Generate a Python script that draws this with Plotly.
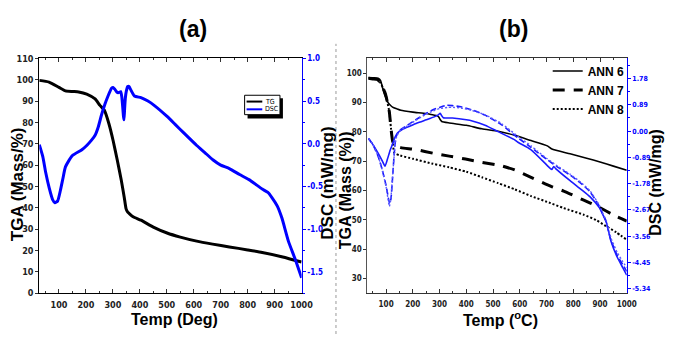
import plotly.graph_objects as go

# ---------------- Panel (a) data ----------------
a_tg_T = [27, 63, 100, 124, 150, 173, 203, 234, 252, 268, 285, 301, 316, 331, 342, 349, 355, 361, 375, 404, 450, 501, 550, 611, 670, 732, 800, 854, 930, 1000]
a_tg_v = [99.7, 98.9, 96.4, 94.8, 94.5, 94.3, 93.3, 91.0, 88.0, 85.8, 79.5, 71.4, 62.5, 53.0, 45.0, 39.5, 38.0, 37.3, 35.8, 34.2, 31.0, 28.2, 26.3, 24.4, 23.0, 21.7, 20.3, 19.1, 17.0, 14.6]

a_dsc_T = [27, 40, 51, 64, 76, 85, 95, 105, 115, 124, 149, 185, 203, 220, 234, 246, 258, 270, 282, 295, 301, 307, 316, 322, 329, 333, 337, 339, 341, 343, 346, 350, 355, 360, 365, 380, 404, 430, 453, 501, 530, 562, 611, 640, 672, 700, 732, 770, 805, 854, 875, 890, 910, 927, 951, 976, 1000]
a_dsc_v = [-0.01, -0.15, -0.34, -0.52, -0.65, -0.69, -0.67, -0.55, -0.40, -0.27, -0.14, -0.07, -0.02, 0.04, 0.10, 0.20, 0.34, 0.46, 0.56, 0.65, 0.66, 0.64, 0.60, 0.60, 0.61, 0.55, 0.41, 0.33, 0.28, 0.38, 0.53, 0.62, 0.67, 0.67, 0.64, 0.56, 0.54, 0.50, 0.45, 0.32, 0.23, 0.13, -0.02, -0.10, -0.19, -0.25, -0.29, -0.36, -0.42, -0.53, -0.57, -0.63, -0.73, -0.87, -1.14, -1.35, -1.57]

# ---------------- Panel (b) data ----------------
ann6_T = [34, 55, 70, 79, 88, 97, 106, 115, 124, 140, 155, 200, 250, 277, 290, 296, 302, 308, 336, 400, 458, 519, 581, 642, 703, 720, 788, 850, 900, 950, 1000]
ann6_v = [98.5, 98.4, 98.2, 97.5, 94.5, 92.0, 90.1, 89.1, 88.4, 87.8, 87.3, 86.7, 86.2, 85.7, 85.5, 85.1, 84.2, 83.5, 83.0, 82.2, 81.0, 80.2, 78.8, 77.0, 75.2, 74.1, 72.5, 71.0, 69.7, 68.3, 66.9]

ann7_T = [34, 50, 67, 80, 88, 95, 100, 106, 112, 118, 124, 130, 140, 155, 214, 275, 336, 397, 458, 531, 581, 642, 715, 764, 837, 886, 960, 1000]
ann7_v = [98.2, 98.0, 97.8, 96.5, 95.0, 93.5, 92.0, 89.5, 86.8, 81.3, 77.0, 75.5, 75.0, 74.6, 73.9, 72.7, 71.7, 70.7, 69.6, 68.4, 67.0, 64.5, 61.5, 59.8, 56.8, 54.8, 51.2, 49.6]

ann8_T = [34, 50, 67, 80, 88, 95, 100, 106, 112, 118, 124, 131, 153, 200, 275, 336, 400, 458, 519, 581, 642, 715, 764, 837, 886, 923, 960, 1000]
ann8_v = [98.2, 98.0, 97.8, 96.5, 95.0, 93.5, 92.0, 89.5, 86.8, 81.3, 76.9, 72.8, 71.9, 70.8, 69.1, 67.9, 66.4, 64.5, 62.5, 60.4, 58.1, 55.7, 54.0, 51.8, 49.9, 47.8, 45.8, 43.2]

dsc6_T = [34, 50, 70, 85, 96, 105, 115, 124, 134, 143, 160, 190, 216, 250, 280, 295, 302, 308, 314, 348, 400, 422, 470, 519, 581, 593, 640, 690, 712, 720, 727, 735, 788, 830, 862, 898, 910, 923, 941, 965, 985, 1000]
dsc6_v = [-0.25, -0.45, -0.75, -1.00, -1.19, -0.95, -0.65, -0.44, -0.20, -0.06, 0.05, 0.17, 0.27, 0.38, 0.48, 0.55, 0.60, 0.52, 0.45, 0.44, 0.38, 0.34, 0.20, -0.02, -0.30, -0.38, -0.62, -1.05, -1.25, -1.30, -1.20, -1.28, -1.68, -1.98, -2.22, -2.60, -2.82, -3.07, -3.73, -4.28, -4.62, -4.88]

dsc7_T = [34, 50, 70, 85, 100, 108, 113, 118, 124, 130, 137, 150, 180, 214, 250, 275, 300, 326, 348, 380, 420, 470, 532, 593, 642, 666, 700, 740, 788, 830, 862, 898, 910, 923, 941, 965, 985, 1000]
dsc7_v = [-0.25, -0.45, -0.85, -1.30, -1.85, -2.25, -2.45, -2.30, -1.60, -0.80, -0.20, 0.02, 0.20, 0.40, 0.60, 0.72, 0.80, 0.87, 0.86, 0.82, 0.72, 0.54, 0.21, -0.23, -0.55, -0.72, -0.95, -1.21, -1.49, -1.78, -2.05, -2.55, -2.80, -3.07, -3.70, -4.22, -4.52, -4.75]

dsc8_T = [34, 50, 70, 85, 100, 108, 112, 117, 123, 130, 137, 150, 180, 214, 250, 275, 300, 330, 350, 380, 420, 470, 532, 593, 642, 666, 700, 740, 788, 830, 862, 898, 910, 923, 941, 965, 985, 1000]
dsc8_v = [-0.25, -0.45, -0.85, -1.30, -1.90, -2.35, -2.55, -2.35, -1.65, -0.85, -0.25, 0.00, 0.18, 0.38, 0.57, 0.68, 0.76, 0.80, 0.80, 0.78, 0.70, 0.55, 0.25, -0.18, -0.50, -0.68, -0.92, -1.18, -1.46, -1.75, -2.02, -2.52, -2.78, -3.02, -3.62, -4.12, -4.42, -4.62]

b_right_ticks = [1.78, 0.89, 0.00, -0.89, -1.78, -2.67, -3.56, -4.45, -5.34]
a_legend_labels = ["TG", "DSC"]

W, H = 681, 339
BLUE = "#0000ff"
BLUE_B = "#1a1aff"
NARROW = "Liberation Sans Narrow, DejaVu Sans Condensed, Arial, sans-serif"
BOLD = "Liberation Sans, Arial, sans-serif"

def px(x):
    return x / W

def py(y):
    return 1 - y / H

fig = go.Figure()

# Panel (a)
fig.add_trace(go.Scatter(x=a_tg_T, y=a_tg_v, name=a_legend_labels[0], mode="lines", showlegend=False,
                         line=dict(color="black", width=3, shape="spline", smoothing=0.5),
                         xaxis="x", yaxis="y"))
fig.add_trace(go.Scatter(x=a_dsc_T, y=a_dsc_v, name=a_legend_labels[1], mode="lines", showlegend=False,
                         line=dict(color=BLUE, width=3, shape="spline", smoothing=0.5),
                         xaxis="x", yaxis="y2"))

# Panel (b)
fig.add_trace(go.Scatter(x=ann6_T, y=ann6_v, name="ANN 6", mode="lines",
                         line=dict(color="black", width=1.6, shape="spline", smoothing=0.5),
                         xaxis="x2", yaxis="y3", legend="legend2"))
fig.add_trace(go.Scatter(x=ann7_T, y=ann7_v, name="ANN 7", mode="lines",
                         line=dict(color="black", width=3, dash="12px,9px", shape="spline", smoothing=0.5),
                         xaxis="x2", yaxis="y3", legend="legend2"))
fig.add_trace(go.Scatter(x=ann8_T, y=ann8_v, name="ANN 8", mode="lines",
                         line=dict(color="black", width=2, dash="2px,2px", shape="spline", smoothing=0.5),
                         xaxis="x2", yaxis="y3", legend="legend2"))
fig.add_trace(go.Scatter(x=dsc6_T, y=dsc6_v, mode="lines", showlegend=False,
                         line=dict(color=BLUE_B, width=1.6, shape="spline", smoothing=0.5),
                         xaxis="x2", yaxis="y4"))
fig.add_trace(go.Scatter(x=dsc7_T, y=dsc7_v, mode="lines", showlegend=False,
                         line=dict(color=BLUE_B, width=1.6, dash="6px,3px", shape="spline", smoothing=0.5),
                         xaxis="x2", yaxis="y4"))
fig.add_trace(go.Scatter(x=dsc8_T, y=dsc8_v, mode="lines", showlegend=False,
                         line=dict(color="#5a5aff", width=1.4, dash="2px,2px", shape="spline", smoothing=0.5),
                         xaxis="x2", yaxis="y4"))

tickf = dict(family=NARROW, size=9, color="#222222", weight="bold")
tickf_b = dict(family=NARROW, size=8, color=BLUE, weight="bold")
tickf_s = dict(family=NARROW, size=8, color="#222222", weight="bold")
tickf_sb = dict(family=NARROW, size=7, color=BLUE, weight="bold")

dom_a = [px(40), px(307)]
dom_b = [px(374), px(638)]
dom_y = [py(297), py(55)]

fig.update_layout(
    width=W, height=H,
    margin=dict(l=0, r=0, t=0, b=0),
    paper_bgcolor="white", plot_bgcolor="white",
    xaxis=dict(domain=dom_a, range=[27, 1000], tickvals=list(range(100, 1001, 100)),
               showgrid=False, zeroline=False, showline=True, linecolor="black", linewidth=1,
               mirror="ticks", ticks="inside", ticklen=4, tickcolor="#333", tickfont=tickf,
               ticklabelstandoff=3,
               minor=dict(ticks="inside", ticklen=2, dtick=50, tick0=0, tickcolor="#333"),
               anchor="y"),
    yaxis=dict(domain=dom_y, range=[0, 110], dtick=10, showgrid=False, zeroline=False,
               showline=True, linecolor="black", linewidth=1, ticks="outside", ticklen=3,
               tickcolor="#333", tickfont=tickf, anchor="x"),
    yaxis2=dict(overlaying="y", side="right", anchor="x", range=[-1.75, 1.0],
                tickvals=[-1.5, -1.0, -0.5, 0.0, 0.5, 1.0],
                ticktext=["-1.5", "-1.0", "-0.5", "0.0", "0.5", "1.0"],
                showgrid=False, zeroline=False, showline=True, linecolor=BLUE, linewidth=1.2,
                ticks="outside", ticklen=3, tickcolor=BLUE, tickfont=tickf_b,
                minor=dict(ticks="outside", ticklen=2, dtick=0.25, tick0=0, tickcolor=BLUE)),
    xaxis2=dict(domain=dom_b, range=[30, 1000], tickvals=list(range(100, 1001, 100)),
                showgrid=False, zeroline=False, showline=True, linecolor="#333", linewidth=1,
                mirror="ticks", ticks="inside", ticklen=4, tickcolor="#333", tickfont=tickf_s,
                ticklabelstandoff=3,
                minor=dict(ticks="inside", ticklen=2, dtick=50, tick0=0, tickcolor="#333"),
                anchor="y3"),
    yaxis3=dict(domain=dom_y, range=[25, 105], tickvals=list(range(30, 101, 10)),
                showgrid=False, zeroline=False, showline=True, linecolor="#555", linewidth=1,
                ticks="outside", ticklen=3, tickcolor="#333", tickfont=tickf_s, anchor="x2"),
    yaxis4=dict(overlaying="y3", side="right", anchor="x2", range=[-5.49, 2.46],
                tickvals=b_right_ticks, ticktext=["%.2f" % v for v in b_right_ticks],
                showgrid=False, zeroline=False, showline=True, linecolor=BLUE, linewidth=1.2,
                ticks="outside", ticklen=3, tickcolor=BLUE, tickfont=tickf_sb,
                minor=dict(ticks="outside", ticklen=2, dtick=0.445, tick0=0, tickcolor=BLUE)),
    legend2=dict(x=px(641), y=py(53), xanchor="right", yanchor="top",
                 bgcolor="rgba(0,0,0,0)", borderwidth=0,
                 font=dict(family=BOLD, size=12, color="black", weight="bold"),
                 itemwidth=30, tracegroupgap=0),
    showlegend=True,
)

title_font = dict(family=BOLD, size=16, color="black", weight="bold")
ann = [
    dict(text="(a)", x=px(196), y=py(25), font=dict(family=BOLD, size=23, color="black", weight="bold")),
    dict(text="(b)", x=px(523), y=py(25), font=dict(family=BOLD, size=23, color="black", weight="bold")),
    dict(text="TGA (Mass/%)", x=px(18), y=py(185), textangle=-90, font=dict(title_font, size=17)),
    dict(text="DSC (mW/mg)", x=px(333), y=py(184), textangle=-90, font=dict(title_font, size=17)),
    dict(text="TGA (Mass (%))", x=px(352), y=py(191), textangle=-90, font=title_font),
    dict(text="DSC (mW/mg)", x=px(667), y=py(183), textangle=-90, font=title_font),
    dict(text="Temp (Deg)", x=px(178), y=py(324), font=title_font),
    dict(text="Temp (<sup>o</sup>C)", x=px(509), y=py(324), font=title_font),
]
for a in ann:
    a.update(xref="paper", yref="paper", showarrow=False, xanchor="center", yanchor="middle")
    fig.add_annotation(**a)

# separator
fig.add_shape(type="line", xref="paper", yref="paper", x0=px(342), x1=px(342), y0=0, y1=py(40),
              line=dict(color="#999999", width=1, dash="dot"))

# boxed legend of panel (a) with drop shadow
fig.add_shape(type="rect", xref="paper", yref="paper", x0=px(252), x1=px(288), y0=py(96), y1=py(117),
              fillcolor="black", line=dict(width=0), layer="above")
fig.add_shape(type="rect", xref="paper", yref="paper", x0=px(249), x1=px(285), y0=py(93), y1=py(113),
              fillcolor="white", line=dict(color="black", width=1), layer="above")
key_colors = ["black", BLUE]
key_rows = [99.5, 107.5]
for lab, col, row in zip(a_legend_labels, key_colors, key_rows):
    fig.add_shape(type="line", xref="paper", yref="paper", x0=px(251), x1=px(267), y0=py(row), y1=py(row),
                  line=dict(color=col, width=2), layer="above")
    fig.add_annotation(text=lab, x=px(268), y=py(row), xref="paper", yref="paper", showarrow=False,
                       xanchor="left", yanchor="middle",
                       font=dict(family=NARROW, size=7, color="black"))

fig.write_html("out.html")
